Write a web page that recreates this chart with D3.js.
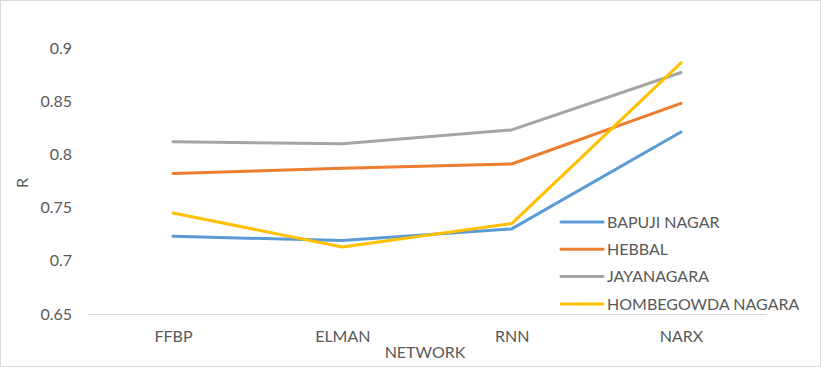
<!DOCTYPE html>
<html><head><meta charset="utf-8">
<script src="https://cdn.jsdelivr.net/npm/d3@7"></script>
<style>html,body{margin:0;padding:0;background:#fff;}svg{display:block;font-family:Lato,"Open Sans",sans-serif;}</style>
</head><body>
<svg id="c" width="821" height="367"></svg>
<script>
const categories = ["FFBP", "ELMAN", "RNN", "NARX"];
const seriesNames = ["BAPUJI NAGAR", "HEBBAL", "JAYANAGARA", "HOMBEGOWDA NAGARA"];
const bapujiNagar = [0.723, 0.719, 0.730, 0.821];
const hebbal = [0.782, 0.787, 0.791, 0.848];
const jayanagara = [0.812, 0.810, 0.823, 0.877];
const hombegowdaNagara = [0.745, 0.713, 0.735, 0.886];
const yTicks = [0.65, 0.7, 0.75, 0.8, 0.85, 0.9];
const colors = ["#5B9BD5", "#ED7D31", "#A5A5A5", "#FFC000"];

const seriesValues = [bapujiNagar, hebbal, jayanagara, hombegowdaNagara];
const svg = d3.select("#c");
const txt = "#595959";

svg.append("rect").attr("x",0.5).attr("y",0.5).attr("width",820).attr("height",366)
  .attr("fill","#fff").attr("stroke","#d9d9d9");

const x = d3.scalePoint().domain(categories).range([173, 681]);
const y = d3.scaleLinear().domain([0.65, 0.9]).range([314, 48]);

// y axis labels
const yAxis = svg.append("g").attr("transform","translate(80,0)")
  .call(d3.axisLeft(y).tickValues(yTicks).tickSize(0).tickPadding(8).tickFormat(d => String(+d.toFixed(2))));
yAxis.select(".domain").remove();
yAxis.selectAll("text").attr("fill",txt).attr("font-size",16).attr("font-family","Lato");

// x axis
const xAxis = svg.append("g").attr("transform","translate(0,314)")
  .call(d3.axisBottom(x).tickSize(0).tickPadding(17));
xAxis.select(".domain").attr("stroke","#d9d9d9").attr("d","M88,0.5H767");
xAxis.selectAll("text").attr("fill",txt).attr("font-size",16).attr("font-family","Lato");

svg.append("text").attr("x",425).attr("y",358).attr("text-anchor","middle")
  .attr("fill",txt).attr("font-size",16).text("NETWORK");
svg.append("text").attr("transform","translate(28,183) rotate(-90)").attr("text-anchor","middle")
  .attr("fill",txt).attr("font-size",16).text("R");

const line = d3.line().x((d,i)=>x(categories[i])).y(d=>y(d));
seriesValues.forEach((vals, k) => {
  svg.append("path").datum(vals).attr("d", line).attr("fill","none")
    .attr("stroke", colors[k]).attr("stroke-width",3).attr("stroke-linejoin","round").attr("stroke-linecap","round");
});

// legend
const lg = svg.append("g");
seriesNames.forEach((n, k) => {
  const yy = 222 + k*27.3;
  lg.append("line").attr("x1",561).attr("x2",603).attr("y1",yy).attr("y2",yy)
    .attr("stroke",colors[k]).attr("stroke-width",3).attr("stroke-linecap","round");
  lg.append("text").attr("x",607).attr("y",yy).attr("dy","0.35em")
    .attr("fill",txt).attr("font-size",16).text(n);
});
</script>
</body></html>
